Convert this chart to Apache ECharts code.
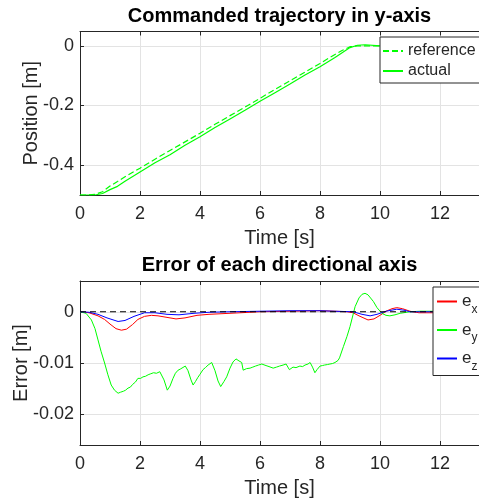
<!DOCTYPE html>
<html><head><meta charset="utf-8">
<script src="https://cdn.jsdelivr.net/npm/echarts@6/dist/echarts.min.js"></script>
<style>html,body{margin:0;padding:0;background:#fff}#c{width:479px;height:504px}</style>
</head><body><div id="c"></div>
<script>
// ---- data ----
const titleTop = 'Commanded trajectory in y-axis';
const titleBottom = 'Error of each directional axis';
const xName = 'Time [s]';
const yNameTop = 'Position [m]';
const yNameBottom = 'Error [m]';

const trajTime = [0, 0.25, 0.5, 0.75, 1, 1.25, 1.5, 2, 2.5, 3, 3.5, 4, 4.5, 5, 5.5, 6, 6.5, 7, 7.5, 8, 8.5, 8.75, 9, 9.25, 9.5, 10];
const referenceY = [-0.5, -0.5, -0.498, -0.489, -0.47, -0.455, -0.439, -0.41, -0.38, -0.351, -0.322, -0.293, -0.263, -0.234, -0.205, -0.176, -0.146, -0.117, -0.088, -0.059, -0.029, -0.015, -0.003, 0, 0, 0];
const actualY = [-0.5, -0.5, -0.5, -0.495, -0.482, -0.471, -0.454, -0.423, -0.392, -0.365, -0.333, -0.305, -0.274, -0.245, -0.216, -0.186, -0.157, -0.128, -0.098, -0.07, -0.039, -0.022, -0.006, 0.002, 0.0036, 0];

const exTime = [0, 0.3, 0.6, 0.82, 1.0, 1.2, 1.38, 1.55, 1.75, 1.93, 2.15, 2.38, 2.6, 2.9, 3.2, 3.5, 3.9, 4.3, 5, 6, 7, 8, 8.5, 8.9, 9.1, 9.3, 9.6, 9.8, 10, 10.2, 10.4, 10.56, 10.75, 11, 11.3, 11.9];
const exVals = [0, -0.0002, -0.0008, -0.0015, -0.0024, -0.0033, -0.0036, -0.0034, -0.0025, -0.0015, -0.0009, -0.0007, -0.0008, -0.0011, -0.0014, -0.0012, -0.0007, -0.0005, -0.0003, 0, 0.0001, 0.0002, 0.0001, 0, -0.0002, -0.0008, -0.0016, -0.0014, -0.0007, 0.0001, 0.0006, 0.0008, 0.0006, 0.0001, -0.0002, -0.0002];

const eyTime = [0, 0.2, 0.38, 0.5, 0.6, 0.7, 0.82, 0.93, 1.04, 1.15, 1.27, 1.35, 1.45, 1.52, 1.6, 1.68, 1.75, 1.85, 1.93, 2.02, 2.1, 2.18, 2.27, 2.36, 2.45, 2.55, 2.66, 2.72, 2.8, 2.91, 3.0, 3.1, 3.18, 3.27, 3.34, 3.4, 3.51, 3.6, 3.7, 3.77, 3.85, 3.93, 4.0, 4.1, 4.18, 4.27, 4.39, 4.5, 4.6, 4.69, 4.8, 4.89, 5.0, 5.1, 5.2, 5.3, 5.39, 5.44, 5.55, 5.67, 5.76, 5.85, 5.95, 6.06, 6.2, 6.3, 6.44, 6.55, 6.65, 6.77, 6.87, 6.93, 6.98, 7.1, 7.2, 7.33, 7.42, 7.5, 7.6, 7.67, 7.75, 7.83, 7.9, 8.0, 8.08, 8.15, 8.25, 8.33, 8.42, 8.5, 8.6, 8.65, 8.78, 8.9, 9.0, 9.17, 9.3, 9.4, 9.5, 9.6, 9.78, 9.9, 10.06, 10.2, 10.33, 10.5, 10.67, 11, 11.33, 11.9];
const eyVals = [0, -0.0003, -0.0016, -0.0033, -0.0055, -0.0077, -0.010, -0.0123, -0.0143, -0.0153, -0.0159, -0.0157, -0.0155, -0.0153, -0.0149, -0.0147, -0.0142, -0.0137, -0.013, -0.013, -0.0127, -0.0126, -0.0123, -0.0121, -0.0119, -0.012, -0.0117, -0.0118, -0.0133, -0.0153, -0.0145, -0.013, -0.012, -0.0114, -0.0112, -0.011, -0.0106, -0.0115, -0.0133, -0.0143, -0.0136, -0.0128, -0.0122, -0.0113, -0.0109, -0.0104, -0.0099, -0.0115, -0.0135, -0.0146, -0.0136, -0.0127, -0.011, -0.0098, -0.0092, -0.0096, -0.0099, -0.0114, -0.0111, -0.011, -0.0108, -0.0106, -0.0104, -0.0102, -0.0105, -0.0107, -0.011, -0.0108, -0.0106, -0.0104, -0.0102, -0.0108, -0.0113, -0.0108, -0.0109, -0.0106, -0.0107, -0.0104, -0.0102, -0.0099, -0.0108, -0.0119, -0.0113, -0.0106, -0.0105, -0.0104, -0.0103, -0.0102, -0.0101, -0.0099, -0.0095, -0.009, -0.0068, -0.0048, -0.0029, 0.001, 0.0027, 0.0034, 0.0036, 0.0033, 0.002, 0.0008, -0.0003, -0.0007, -0.0008, -0.0006, -0.0003, 0, 0.0001, 0.0001];

const ezTime = [0, 0.3, 0.6, 0.9, 1.27, 1.5, 1.8, 2.15, 2.5, 2.9, 3.3, 3.8, 4.3, 5, 6, 7, 8, 8.5, 9.1, 9.4, 9.67, 9.9, 10.2, 10.56, 10.8, 11, 11.9];
const ezVals = [0, -0.0001, -0.0005, -0.0012, -0.0019, -0.0017, -0.0009, -0.0002, -0.0002, -0.0005, -0.0006, -0.0003, -0.0001, 0, 0.0001, 0.0002, 0.0002, 0.0001, 0, -0.0005, -0.0008, -0.0005, 0.0001, 0.0005, 0.0003, 0, 0];

const zeroTime = [0, 11.9];
const zeroVals = [0, 0];

// ---- helpers ----
const FONT = 'Arial, "Liberation Sans", Helvetica, sans-serif';
const AX = '#262626';
const GRIDC = '#e3e3e3';
const pairs = (t, v) => t.map((x, i) => [x, v[i]]);

function xBottom(gi) {
  return {
    type: 'value', gridIndex: gi, min: 0, max: 13.3, interval: 2, position: 'bottom',
    name: xName, nameLocation: 'middle', nameGap: 33, nameMoveOverlap: false,
    nameTextStyle: { fontSize: 20, color: AX, fontFamily: FONT },
    axisLine: { show: true, onZero: false, lineStyle: { color: AX, width: 1 } },
    axisTick: { show: true, inside: true, length: 4, lineStyle: { color: AX } },
    axisLabel: { fontSize: 18, color: AX, margin: 10, fontFamily: FONT, showMaxLabel: false },
    splitLine: { show: true, lineStyle: { color: GRIDC, width: 1 } }
  };
}
function xTop(gi) {
  return {
    type: 'value', gridIndex: gi, min: 0, max: 13.3, interval: 2, position: 'top',
    axisLine: { show: true, onZero: false, lineStyle: { color: AX, width: 1 } },
    axisTick: { show: true, inside: true, length: 4, lineStyle: { color: AX } },
    axisLabel: { show: false }, splitLine: { show: false }
  };
}
function yLeft(gi, min, max, name, gap) {
  return {
    type: 'value', gridIndex: gi, min: min, max: max, splitNumber: 3,
    name: name, nameLocation: 'middle', nameGap: gap, nameMoveOverlap: false,
    nameTextStyle: { fontSize: 20, color: AX, fontFamily: FONT },
    axisLine: { show: true, onZero: false, lineStyle: { color: AX, width: 1 } },
    axisTick: { show: true, inside: true, length: 4, lineStyle: { color: AX } },
    axisLabel: { fontSize: 18, color: AX, margin: 6, fontFamily: FONT, showMinLabel: false, showMaxLabel: false },
    splitLine: { show: true, lineStyle: { color: GRIDC, width: 1 } }
  };
}
function lineSeries(name, xi, data, color, type, width, z) {
  return {
    name: name, type: 'line', xAxisIndex: xi, yAxisIndex: xi === 0 ? 0 : 1,
    data: data, showSymbol: false, symbol: 'none', smooth: false, z: z || 2,
    lineStyle: { color: color, width: width, type: type }, itemStyle: { color: color }
  };
}

const chart = echarts.init(document.getElementById('c'), null, { renderer: 'canvas' });
chart.setOption({
  animation: false,
  backgroundColor: '#fff',
  title: [
    { text: titleTop, left: 279.5, top: 6, textAlign: 'center', padding: 0,
      textStyle: { fontSize: 20, fontWeight: 'bold', color: '#000', fontFamily: FONT } },
    { text: titleBottom, left: 279.5, top: 255, textAlign: 'center', padding: 0,
      textStyle: { fontSize: 20, fontWeight: 'bold', color: '#000', fontFamily: FONT } }
  ],
  grid: [
    { left: 80, top: 31.5, right: 0, height: 163.5, containLabel: false, outerBoundsMode: 'none' },
    { left: 80, top: 281, right: 0, height: 164, containLabel: false, outerBoundsMode: 'none' }
  ],
  xAxis: [xBottom(0), xBottom(1), xTop(0), xTop(1)],
  yAxis: [yLeft(0, -0.5, 0.048, yNameTop, 39), yLeft(1, -0.026, 0.006, yNameBottom, 49)],
  legend: [
    { data: ['reference', 'actual'], orient: 'vertical', left: 380, top: 37,
      padding: [4, 8, 2, 2], itemGap: 0, itemWidth: 20, itemHeight: 14, selectedMode: false,
      itemStyle: { opacity: 0 },
      backgroundColor: '#fff', borderColor: AX, borderWidth: 1, borderRadius: 0,
      textStyle: { fontSize: 16, color: AX, lineHeight: 20, fontFamily: FONT } },
    { data: ['ex', 'ey', 'ez'], orient: 'vertical', left: 433, top: 287,
      padding: [6, 8, 3, 3], itemGap: 6, itemWidth: 20, itemHeight: 14, selectedMode: false,
      itemStyle: { opacity: 0 },
      backgroundColor: '#fff', borderColor: AX, borderWidth: 1, borderRadius: 0,
      formatter: n => '{e|e}{s|' + n.slice(1) + '}',
      textStyle: { fontSize: 16, color: AX, fontFamily: FONT,
        rich: { e: { fontSize: 17, color: AX, fontFamily: FONT },
                s: { fontSize: 12, color: AX, fontFamily: FONT, padding: [16, 0, 0, 0] } } } }
  ],
  series: [
    lineSeries('reference', 0, pairs(trajTime, referenceY), '#00ff00', [6, 3], 1.2),
    lineSeries('actual', 0, pairs(trajTime, actualY), '#00ff00', 'solid', 1.2),
    lineSeries('ex', 1, pairs(exTime, exVals), '#ff0000', 'solid', 1),
    lineSeries('ey', 1, pairs(eyTime, eyVals), '#00ff00', 'solid', 1),
    lineSeries('ez', 1, pairs(ezTime, ezVals), '#0000ff', 'solid', 1),
    lineSeries('zero', 1, pairs(zeroTime, zeroVals), '#000000', [6, 4], 1, 3)
  ]
});
</script>
</body></html>
